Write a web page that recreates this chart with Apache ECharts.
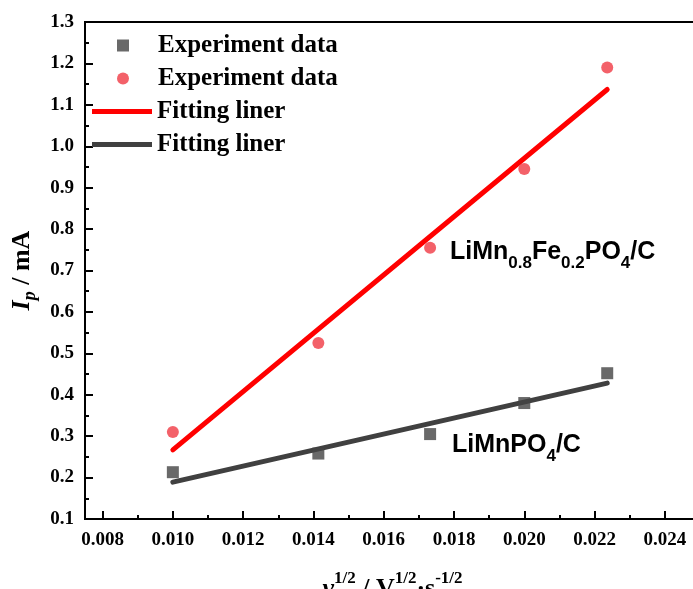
<!DOCTYPE html>
<html>
<head>
<meta charset="utf-8">
<script src="https://cdn.jsdelivr.net/npm/echarts@6/dist/echarts.min.js"></script>
<style>html,body{margin:0;padding:0;background:#fff}#c{width:693px;height:589px}</style>
</head>
<body>
<div id="c"></div>
<script>
// Data
const xValues = [0.0100, 0.01414, 0.01732, 0.0200, 0.02236];
const lmpData = [0.213, 0.258, 0.305, 0.380, 0.452];     // LiMnPO4/C (squares)
const lmfpData = [0.310, 0.525, 0.755, 0.945, 1.190];    // LiMn0.8Fe0.2PO4/C (circles)
const fitX = [0.0100, 0.02236];
const lmfpFit = [0.267, 1.137];
const lmpFit = [0.189, 0.428];
const xMajorTicks = [0.008, 0.010, 0.012, 0.014, 0.016, 0.018, 0.020, 0.022, 0.024];
const xMinorTicks = [0.009, 0.011, 0.013, 0.015, 0.017, 0.019, 0.021, 0.023];
const legendNames = ['Experiment data', 'Experiment data ', 'Fitting liner', 'Fitting liner '];

const pair = (xs, ys) => xs.map((x, i) => [x, ys[i]]);
const serif = 'Liberation Serif';
const sans = 'Liberation Sans';
const black = '#000';
const annRich = {
  a: { fontFamily: sans, fontWeight: 'bold', fontSize: 25, fill: black, verticalAlign: 'top', lineHeight: 32 },
  b: { fontFamily: sans, fontWeight: 'bold', fontSize: 17, fill: black, verticalAlign: 'bottom', lineHeight: 32 }
};

const chart = echarts.init(document.getElementById('c'));
chart.setOption({
  animation: false,
  backgroundColor: '#fff',
  grid: { left: 85, right: -7, top: 22, bottom: 70, show: true, borderColor: black, borderWidth: 2,
          containLabel: false, outerBoundsMode: 'none' },
  xAxis: [{
    type: 'value', min: 0.0075, max: 0.025, position: 'bottom',
    axisLine: { lineStyle: { color: black, width: 2 } },
    axisTick: { inside: true, length: 8, customValues: xMajorTicks, lineStyle: { width: 2, color: black } },
    splitLine: { show: false },
    axisLabel: { fontFamily: serif, fontWeight: 'bold', fontSize: 19, color: black, margin: 12,
      customValues: xMajorTicks, formatter: v => v.toFixed(3) },
    name: '{g|ν}{s|1/2}{n| / V}{s|1/2}{n|·s}{s|-1/2}',
    nameLocation: 'middle', nameGap: 51,
    nameTextStyle: { rich: {
      g: { fontFamily: serif, fontStyle: 'italic', fontWeight: 'bold', fontSize: 26, color: black, verticalAlign: 'bottom', lineHeight: 32 },
      n: { fontFamily: serif, fontWeight: 'bold', fontSize: 26, color: black, verticalAlign: 'bottom', lineHeight: 32 },
      s: { fontFamily: serif, fontWeight: 'bold', fontSize: 17, color: black, verticalAlign: 'top', lineHeight: 32 }
    } }
  }, {
    type: 'value', min: 0.0075, max: 0.025, position: 'bottom', offset: 0,
    axisLine: { show: false },
    axisTick: { inside: true, length: 4, customValues: xMinorTicks, lineStyle: { width: 2, color: black } },
    axisLabel: { show: false },
    splitLine: { show: false }
  }],
  yAxis: {
    type: 'value', min: 0.1, max: 1.3, interval: 0.1,
    axisLine: { lineStyle: { color: black, width: 2 } },
    axisTick: { inside: true, length: 8, lineStyle: { width: 2, color: black } },
    minorTick: { show: true, splitNumber: 2, length: 4, lineStyle: { width: 2, color: black } },
    splitLine: { show: false },
    axisLabel: { fontFamily: serif, fontWeight: 'bold', fontSize: 19, color: black, margin: 11, formatter: v => v.toFixed(1) },
    name: '{i|I}{p|p}{n| / mA}',
    nameLocation: 'middle', nameGap: 46, nameRotate: 90,
    nameTextStyle: { rich: {
      i: { fontFamily: serif, fontStyle: 'italic', fontWeight: 'bold', fontSize: 26, color: black, verticalAlign: 'top', lineHeight: 30 },
      p: { fontFamily: serif, fontStyle: 'italic', fontWeight: 'bold', fontSize: 18, color: black, verticalAlign: 'bottom', lineHeight: 30 },
      n: { fontFamily: serif, fontWeight: 'bold', fontSize: 26, color: black, verticalAlign: 'top', lineHeight: 30 }
    } }
  },
  legend: [
    { data: [{ name: legendNames[0], icon: 'rect' }, { name: legendNames[1], icon: 'circle' }],
      orient: 'vertical', left: 112, top: 28, itemWidth: 12, itemHeight: 12, itemGap: 8,
      formatter: n => n.trim(),
      textStyle: { fontFamily: serif, fontWeight: 'bold', fontSize: 25, lineHeight: 25, color: black, padding: [0, 0, 0, 24] } },
    { data: [{ name: legendNames[2], icon: 'rect' }, { name: legendNames[3], icon: 'rect' }],
      orient: 'vertical', left: 87, top: 94, itemWidth: 60, itemHeight: 5, itemGap: 8,
      formatter: n => n.trim(),
      textStyle: { fontFamily: serif, fontWeight: 'bold', fontSize: 25, lineHeight: 25, color: black } }
  ],
  series: [
    { name: legendNames[0], type: 'scatter', symbol: 'rect', symbolSize: 12, itemStyle: { color: '#434343' }, data: pair(xValues, lmpData), z: 3 },
    { name: legendNames[1], type: 'scatter', symbol: 'circle', symbolSize: 12, itemStyle: { color: '#f03a44' }, data: pair(xValues, lmfpData), z: 3 },
    { name: legendNames[2], type: 'line', symbol: 'none', lineStyle: { color: '#ff0000', width: 5, cap: 'round' }, itemStyle: { color: '#ff0000' }, data: pair(fitX, lmfpFit), z: 2 },
    { name: legendNames[3], type: 'line', symbol: 'none', lineStyle: { color: '#404040', width: 5, cap: 'round' }, itemStyle: { color: '#404040' }, data: pair(fitX, lmpFit), z: 2 }
  ],
  graphic: [
    { type: 'text', left: 450, top: 240, style: { text: '{a|LiMn}{b|0.8}{a|Fe}{b|0.2}{a|PO}{b|4}{a|/C}', rich: annRich } },
    { type: 'text', left: 452, top: 433, style: { text: '{a|LiMnPO}{b|4}{a|/C}', rich: annRich } }
  ]
});
</script>
</body>
</html>
